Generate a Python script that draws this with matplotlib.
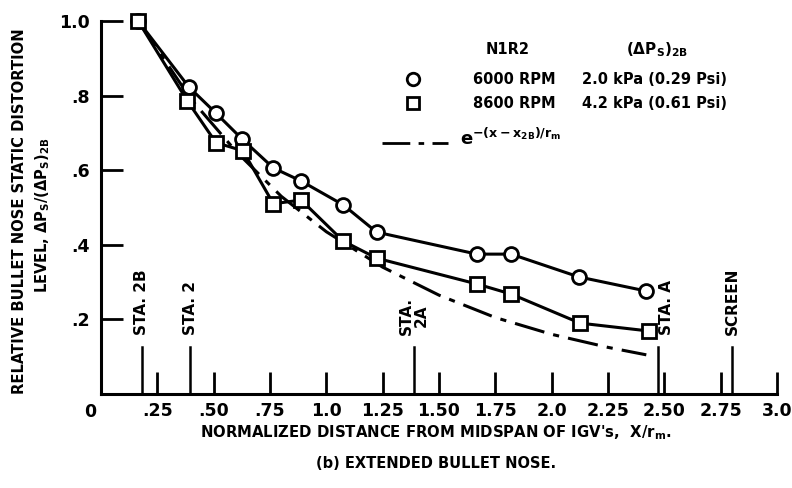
import matplotlib
matplotlib.use("Agg")
import matplotlib.pyplot as plt

plt.rcParams['font.family'] = ['DejaVu Sans']
plt.rcParams['font.weight'] = 'bold'
plt.rcParams['mathtext.default'] = 'regular'

# ---- data ----
x_6000 = [0.165, 0.39, 0.51, 0.627, 0.765, 0.888, 1.075, 1.223, 1.668, 1.82, 2.12, 2.42]
y_6000 = [1.0, 0.823, 0.753, 0.683, 0.606, 0.571, 0.507, 0.434, 0.375, 0.375, 0.314, 0.276]

x_8600 = [0.165, 0.383, 0.51, 0.63, 0.765, 0.888, 1.075, 1.224, 1.668, 1.82, 2.126, 2.43]
y_8600 = [1.0, 0.786, 0.674, 0.652, 0.51, 0.52, 0.41, 0.364, 0.295, 0.268, 0.19, 0.169]

x_exp = [0.165, 0.4, 0.6, 0.8, 1.0, 1.25, 1.5, 1.75, 2.0, 2.25, 2.42]
y_exp = [1.0, 0.79, 0.65, 0.53, 0.435, 0.34, 0.265, 0.205, 0.16, 0.125, 0.105]

station_x = [0.18, 0.395, 1.387, 2.47, 2.80]
station_labels = ["STA. 2B", "STA. 2", "STA.\n2A", "STA. A", "SCREEN"]
station_label_dx = [0.0, 0.0, 0.0, 0.04, 0.0]

x_ticks = [0.25, 0.50, 0.75, 1.0, 1.25, 1.50, 1.75, 2.0, 2.25, 2.50, 2.75, 3.0]
x_tick_labels = [".25", ".50", ".75", "1.0", "1.25", "1.50", "1.75", "2.0", "2.25", "2.50", "2.75", "3.0"]
y_ticks = [0.2, 0.4, 0.6, 0.8, 1.0]
y_tick_labels = [".2", ".4", ".6", ".8", "1.0"]

fig = plt.figure(figsize=(7.92, 4.88), dpi=100)
ax = fig.add_axes([101/792, 1 - 394/488, (777 - 101)/792, (394 - 21)/488])

ax.set_xlim(0, 3.0)
ax.set_ylim(0, 1.0)
for s in ['top', 'right']:
    ax.spines[s].set_visible(False)
for s in ['left', 'bottom']:
    ax.spines[s].set_linewidth(2.2)

ax.set_xticks(x_ticks)
ax.set_xticklabels(x_tick_labels)
ax.set_yticks(y_ticks)
ax.set_yticklabels(y_tick_labels)
ax.tick_params(axis='both', direction='in', length=16, width=2, labelsize=12.5)
ax.tick_params(axis='x', pad=6)
ax.tick_params(axis='y', pad=8)

# "0" label at origin
ax.text(-0.05, -0.025, "0", ha='center', va='top', fontsize=12.5)

# series
ax.plot(x_exp, y_exp, color='black', lw=2.2, ls=(0, (10, 3, 2, 3)), clip_on=False, zorder=2)
ax.plot(x_6000, y_6000, color='black', lw=2.2, marker='o', ms=10, mfc='white',
        mec='black', mew=2, clip_on=False, zorder=3)
ax.plot(x_8600, y_8600, color='black', lw=2.2, marker='s', ms=9.5, mfc='white',
        mec='black', mew=2, clip_on=False, zorder=3)

# station lines
for sx, lab, dx in zip(station_x, station_labels, station_label_dx):
    ax.plot([sx, sx], [0, 0.126], color='black', lw=1.8, clip_on=False)
    ax.text(sx + dx, 0.158, lab, rotation=90, ha='center', va='bottom', fontsize=11,
            linespacing=1.0)

# legend
fig.text(508/792, 1 - 50/488, "N1R2", ha='center', va='center', fontsize=10.5)
fig.text(657/792, 1 - 50/488, r"($\Delta P_S)_{2B}$", ha='center', va='center', fontsize=11)
fig.lines.append(plt.Line2D([413/792], [1 - 79/488], marker='o', ms=9, mfc='white',
                            mec='black', mew=2, transform=fig.transFigure))
fig.lines.append(plt.Line2D([413/792], [1 - 103/488], marker='s', ms=8.5, mfc='white',
                            mec='black', mew=2, transform=fig.transFigure))
fig.text(473/792, 1 - 80/488, "6000 RPM", ha='left', va='center', fontsize=10.5)
fig.text(473/792, 1 - 104/488, "8600 RPM", ha='left', va='center', fontsize=10.5)
fig.text(582/792, 1 - 80/488, "2.0 kPa (0.29 Psi)", ha='left', va='center', fontsize=10.5)
fig.text(582/792, 1 - 104/488, "4.2 kPa (0.61 Psi)", ha='left', va='center', fontsize=10.5)
fig.lines.append(plt.Line2D([382/792, 448/792], [1 - 143/488, 1 - 143/488], color='black',
                            lw=2, ls=(0, (10, 3, 2, 3)), transform=fig.transFigure))
fig.text(460/792, 1 - 138/488, r"$e^{-(x-x_{2B})/r_m}$", ha='left', va='center', fontsize=13)

# axis labels
fig.text(20/792, 1 - 211/488, "RELATIVE BULLET NOSE STATIC DISTORTION", rotation=90,
         ha='center', va='center', fontsize=10.6)
fig.text(43/792, 1 - 215/488, r"LEVEL, $\Delta P_S/(\Delta P_S)_{2B}$", rotation=90,
         ha='center', va='center', fontsize=10.5)
fig.text(436/792, 1 - 433/488, r"NORMALIZED DISTANCE FROM MIDSPAN OF IGV's,  X/r$_m$.",
         ha='center', va='center', fontsize=10.7)
fig.text(436/792, 1 - 463/488, "(b) EXTENDED BULLET NOSE.", ha='center', va='center',
         fontsize=10.5)

fig.savefig("out.png", dpi=100)
